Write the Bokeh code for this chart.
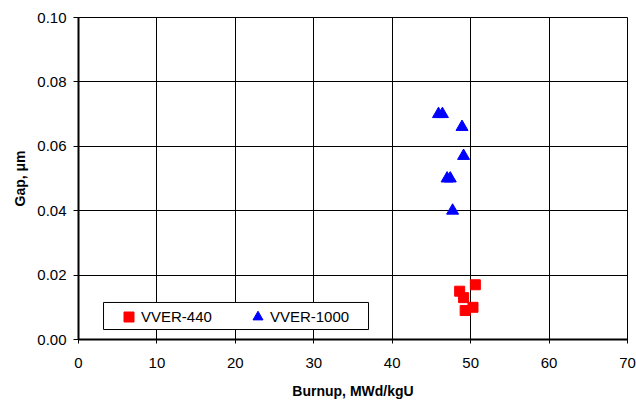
from bokeh.plotting import figure
from bokeh.models import FixedTicker, PrintfTickFormatter, Legend, LegendItem, Range1d, BoxAnnotation
from bokeh.embed import file_html
from bokeh.resources import INLINE

# Data
vver440_burnup = [50.6, 48.6, 49.1, 49.3, 50.3]
vver440_gap = [0.017, 0.015, 0.013, 0.009, 0.010]
vver1000_burnup = [45.9, 46.4, 48.9, 49.1, 47.0, 47.4, 47.7]
vver1000_gap = [0.070, 0.070, 0.066, 0.057, 0.050, 0.050, 0.040]
x_ticks = [0, 10, 20, 30, 40, 50, 60, 70]
y_ticks = [0.0, 0.02, 0.04, 0.06, 0.08, 0.10]

FONT = "Liberation Sans"

p = figure(width=636, height=401, output_backend="svg", toolbar_location=None,
           x_range=Range1d(0, 70), y_range=Range1d(0, 0.10),
           min_border_left=78, min_border_right=9, min_border_top=17, min_border_bottom=62)
p.background_fill_color = "white"
p.border_fill_color = "white"
p.outline_line_color = "black"
p.outline_line_width = 1

p.xaxis.ticker = FixedTicker(ticks=x_ticks)
p.yaxis.ticker = FixedTicker(ticks=y_ticks)
p.yaxis.formatter = PrintfTickFormatter(format="%.2f")
p.xgrid.ticker = FixedTicker(ticks=x_ticks)
p.ygrid.ticker = FixedTicker(ticks=y_ticks)
for g in (p.xgrid, p.ygrid):
    g.grid_line_color = "black"
    g.grid_line_width = 1
    g.grid_line_alpha = 1.0

for ax in (p.xaxis, p.yaxis):
    ax.axis_line_color = "black"
    ax.axis_line_width = 2
    ax.major_tick_line_color = "black"
    ax.major_tick_line_width = 1
    ax.minor_tick_line_color = None
    ax.major_label_text_font = FONT
    ax.major_label_text_font_size = "15px"
    ax.major_label_text_color = "black"
    ax.axis_label_text_font = FONT
    ax.axis_label_text_font_size = "14px"
    ax.axis_label_text_font_style = "bold"
    ax.axis_label_text_color = "black"

p.xaxis.major_tick_in = 4
p.xaxis.major_tick_out = 4
p.yaxis.major_tick_in = 0
p.yaxis.major_tick_out = 5
p.xaxis.major_label_standoff = 14
p.yaxis.major_label_standoff = 7
p.xaxis.axis_label = "Burnup, MWd/kgU"
p.yaxis.axis_label = "Gap, \u03bcm"
p.xaxis.axis_label_standoff = 12
p.yaxis.axis_label_standoff = 6

r1 = p.scatter(vver440_burnup, vver440_gap, marker="square", size=10,
               fill_color="red", line_color="red")
r2 = p.scatter(vver1000_burnup, vver1000_gap, marker="triangle", size=12,
               fill_color="blue", line_color="blue")

# legend frame (white box with black border)
frame = BoxAnnotation(left=3.19, right=36.98, bottom=0.0031, top=0.0115,
                      fill_color="white", fill_alpha=1.0,
                      line_color="black", line_width=1, line_alpha=1.0)
p.add_layout(frame)

legend = Legend(items=[LegendItem(label="VVER-440", renderers=[r1]),
                       LegendItem(label="VVER-1000", renderers=[r2])],
                location=(38, 10), orientation="horizontal")
legend.label_text_font = FONT
legend.label_text_font_size = "15px"
legend.label_text_color = "black"
legend.border_line_color = None
legend.background_fill_alpha = 0
legend.glyph_width = 25
legend.glyph_height = 25
legend.label_standoff = 0
legend.spacing = 33
legend.padding = 1
legend.margin = 0
legend.label_height = 15
p.add_layout(legend, "center")

open("out.html", "w").write(file_html(p, INLINE))
